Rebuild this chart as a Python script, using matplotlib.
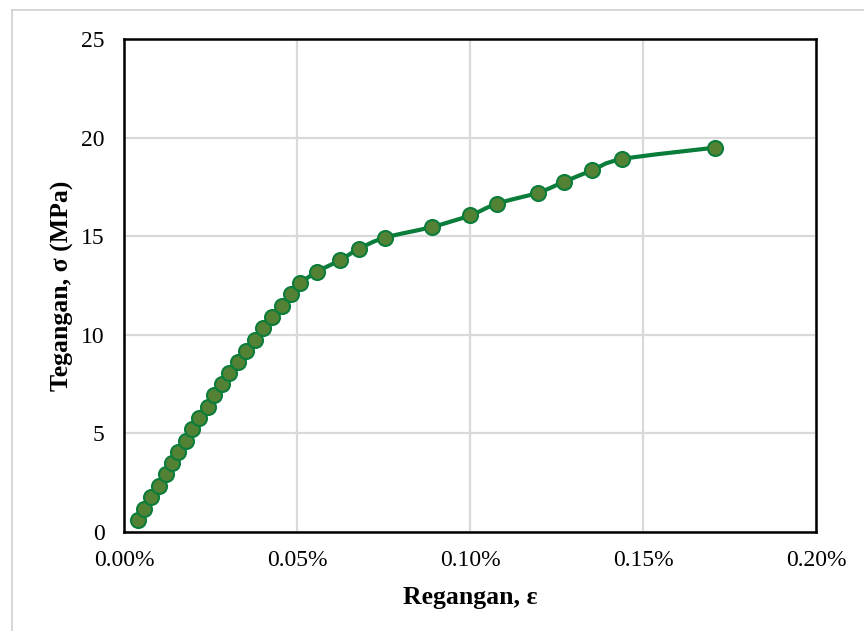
import matplotlib
matplotlib.use("Agg")
import matplotlib.pyplot as plt
from matplotlib.path import Path
from matplotlib.patches import PathPatch
from matplotlib.lines import Line2D
from matplotlib.ticker import FuncFormatter

# Data (strain in %, stress in MPa)
strain = [0.0041, 0.0059, 0.0078, 0.0101, 0.0121, 0.0140, 0.0157, 0.0178, 0.0197,
          0.0217, 0.0242, 0.0261, 0.0284, 0.0303, 0.0330, 0.0353, 0.0379, 0.0403,
          0.0428, 0.0456, 0.0482, 0.0509, 0.0558, 0.0624, 0.0678, 0.0753, 0.0890,
          0.1001, 0.1078, 0.1197, 0.1272, 0.1353, 0.1440, 0.1708]
stress = [0.61, 1.18, 1.77, 2.33, 2.93, 3.50, 4.06, 4.63, 5.21,
          5.80, 6.34, 6.93, 7.49, 8.05, 8.62, 9.18, 9.75, 10.33,
          10.90, 11.48, 12.05, 12.61, 13.20, 13.78, 14.35, 14.92, 15.47,
          16.06, 16.65, 17.21, 17.76, 18.34, 18.91, 19.49]
x_ticks = [0.00, 0.05, 0.10, 0.15, 0.20]
y_ticks = [0, 5, 10, 15, 20, 25]

plt.rcParams['font.family'] = ['Liberation Serif', 'DejaVu Serif']

fig = plt.figure(figsize=(8.64, 6.31), dpi=100)
ax = fig.add_axes([124/864, 1-532/631, (816-124)/864, (532-39)/631])

line_color = '#0B7D3A'
face_color = '#548235'

# smooth line (Excel-style Bezier through points)
n = len(strain)
verts = [(strain[0], stress[0])]
codes = [Path.MOVETO]
for i in range(n - 1):
    p0 = (strain[i-1], stress[i-1]) if i > 0 else (strain[i], stress[i])
    p1 = (strain[i], stress[i])
    p2 = (strain[i+1], stress[i+1])
    p3 = (strain[i+2], stress[i+2]) if i + 2 < n else p2
    c1 = (p1[0] + (p2[0]-p0[0])/6, p1[1] + (p2[1]-p0[1])/6)
    c2 = (p2[0] - (p3[0]-p1[0])/6, p2[1] - (p3[1]-p1[1])/6)
    verts += [c1, c2, p2]
    codes += [Path.CURVE4]*3
ax.add_patch(PathPatch(Path(verts, codes), facecolor='none', edgecolor=line_color,
                       lw=3.0, zorder=3, capstyle='round', joinstyle='round'))
ax.plot(strain, stress, linestyle='none', marker='o', markersize=10.8,
        markerfacecolor=face_color, markeredgecolor=line_color, markeredgewidth=1.5,
        zorder=4, clip_on=False)

ax.set_xlim(0, 0.20)
ax.set_ylim(0, 25)
ax.set_xticks(x_ticks)
ax.set_yticks(y_ticks)
ax.xaxis.set_major_formatter(FuncFormatter(lambda v, p: f"{v:.2f}%"))
ax.grid(True, color='#D9D9D9', lw=1.6)
ax.set_axisbelow(True)
for s in ax.spines.values():
    s.set_linewidth(1.8)
    s.set_color('black')
ax.tick_params(length=0, labelsize=17, colors='black')
ax.tick_params(axis='y', pad=14)
ax.tick_params(axis='x', pad=13)

ax.set_xlabel('Regangan, ε', fontsize=18.5, fontweight='bold', labelpad=11)
ax.set_ylabel('Tegangan, σ (MPa)', fontsize=18.5, fontweight='bold', labelpad=5)

# chart area border (gray), clipped by the image edges
fig.add_artist(Line2D([11.5/864, 11.5/864], [0, 1-9.5/631], transform=fig.transFigure,
                      color='#D0D0D0', lw=1.2))
fig.add_artist(Line2D([11.5/864, 1], [1-9.5/631, 1-9.5/631], transform=fig.transFigure,
                      color='#D0D0D0', lw=1.2))

fig.savefig('out.png', dpi=100, facecolor='white')
